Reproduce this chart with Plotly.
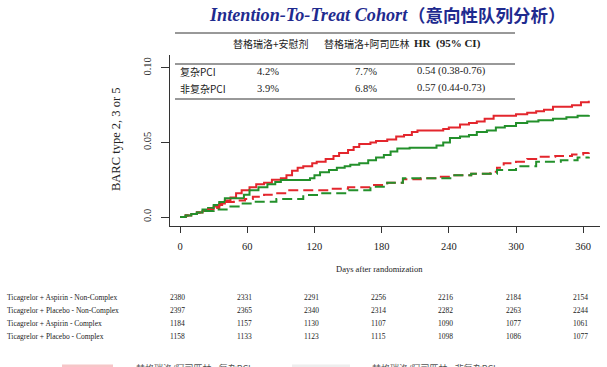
import plotly.graph_objects as go

# ---------------- data ----------------
days_asp_cx = [0, 5, 10, 15, 20, 25, 30, 35, 40, 45, 50, 55, 62, 68, 75, 82, 90, 95, 100, 105, 110, 118, 122, 130, 137, 142, 150, 155, 160, 170, 175, 185, 193, 200, 207, 212, 235, 240, 250, 258, 265, 272, 280, 290, 300, 310, 318, 325, 333, 340, 350, 358, 365]
vals_asp_cx = [0, 0.001, 0.002, 0.003, 0.004, 0.005, 0.007, 0.009, 0.011, 0.013, 0.016, 0.018, 0.020, 0.022, 0.023, 0.025, 0.026, 0.028, 0.031, 0.033, 0.034, 0.036, 0.037, 0.039, 0.041, 0.043, 0.045, 0.047, 0.049, 0.050, 0.051, 0.052, 0.054, 0.055, 0.057, 0.058, 0.059, 0.060, 0.062, 0.063, 0.064, 0.066, 0.068, 0.068, 0.069, 0.070, 0.071, 0.072, 0.074, 0.074, 0.075, 0.077, 0.078]

days_asp_nc = [0, 5, 10, 15, 20, 25, 30, 35, 40, 57, 62, 70, 78, 85, 90, 116, 120, 125, 133, 140, 147, 152, 160, 168, 175, 182, 188, 194, 205, 229, 235, 241, 250, 258, 265, 274, 282, 290, 300, 310, 320, 333, 345, 355, 365]
vals_asp_nc = [0, 0.001, 0.002, 0.003, 0.005, 0.006, 0.008, 0.010, 0.0125, 0.015, 0.018, 0.020, 0.022, 0.0235, 0.0248, 0.026, 0.028, 0.030, 0.0315, 0.033, 0.034, 0.035, 0.036, 0.038, 0.040, 0.0416, 0.044, 0.046, 0.0465, 0.048, 0.050, 0.053, 0.054, 0.055, 0.057, 0.058, 0.060, 0.061, 0.063, 0.064, 0.065, 0.066, 0.067, 0.068, 0.0685]

days_pla_cx = [0, 5, 10, 15, 20, 25, 30, 35, 40, 48, 58, 65, 75, 85, 95, 128, 135, 150, 170, 185, 199, 215, 230, 244, 260, 277, 283, 289, 300, 310, 318, 335, 350, 360, 365]
vals_pla_cx = [0, 0.001, 0.002, 0.003, 0.004, 0.005, 0.006, 0.008, 0.010, 0.011, 0.012, 0.0136, 0.015, 0.016, 0.018, 0.018, 0.019, 0.020, 0.0215, 0.023, 0.0253, 0.026, 0.027, 0.028, 0.029, 0.0304, 0.033, 0.036, 0.037, 0.039, 0.0405, 0.041, 0.042, 0.043, 0.0432]

days_pla_nc = [0, 5, 10, 15, 20, 30, 45, 55, 65, 86, 110, 125, 150, 170, 185, 199, 244, 260, 283, 300, 318, 340, 355, 365]
vals_pla_nc = [0, 0.001, 0.002, 0.003, 0.004, 0.005, 0.007, 0.009, 0.0103, 0.012, 0.0148, 0.016, 0.018, 0.0203, 0.023, 0.026, 0.028, 0.029, 0.0315, 0.034, 0.037, 0.038, 0.040, 0.0405]

x_ticks = [0, 60, 120, 180, 240, 300, 360]
y_ticks = [0.0, 0.05, 0.10]
y_tick_labels = ["0.0", "0.05", "0.10"]

risk_labels = ["Ticagrelor + Aspirin - Non-Complex", "Ticagrelor + Placebo - Non-Complex",
               "Ticagrelor + Aspirin - Complex", "Ticagrelor + Placebo - Complex"]
risk_asp_nc = [2380, 2331, 2291, 2256, 2216, 2184, 2154]
risk_pla_nc = [2397, 2365, 2340, 2314, 2282, 2263, 2244]
risk_asp_cx = [1184, 1157, 1130, 1107, 1090, 1077, 1061]
risk_pla_cx = [1158, 1133, 1123, 1115, 1098, 1086, 1077]

tbl_header = ["替格瑞洛+安慰剂", "替格瑞洛+阿司匹林", "HR  (95% CI)"]
tbl_rows = ["复杂PCI", "非复杂PCI"]
tbl_placebo = ["4.2%", "3.9%"]
tbl_aspirin = ["7.7%", "6.8%"]
tbl_hr = ["0.54 (0.38-0.76)", "0.57 (0.44-0.73)"]

legend_texts = ["替格瑞洛/阿司匹林 - 复杂PCI", "替格瑞洛/阿司匹林 - 非复杂PCI"]

# ---------------- layout helpers ----------------
W, H = 607, 367
L, R, T, B = 170, 7, 55, 141
PW, PH = W - L - R, H - T - B


def px(x):
    return (x - L) / PW


def py(y):
    return (H - B - y) / PH


RED = "#e3262d"
GREEN = "#23902b"
SERIF = "Liberation Serif"
CJK = "Noto Sans CJK SC"
BLUE = "#1f2b8f"

fig = go.Figure()
fig.add_trace(go.Scatter(x=days_asp_cx, y=vals_asp_cx, mode="lines", line=dict(color=RED, width=2, shape="hv")))
fig.add_trace(go.Scatter(x=days_asp_nc, y=vals_asp_nc, mode="lines", line=dict(color=GREEN, width=2, shape="hv")))
fig.add_trace(go.Scatter(x=days_pla_cx, y=vals_pla_cx, mode="lines", line=dict(color=RED, width=2, shape="hv", dash="10px,5px")))
fig.add_trace(go.Scatter(x=days_pla_nc, y=vals_pla_nc, mode="lines", line=dict(color=GREEN, width=2, shape="hv", dash="10px,5px")))

ann = []
shapes = []

# title
ann.append(dict(text="<b><i>Intention-To-Treat Cohort</i></b>", x=px(410), y=py(15), xref="paper", yref="paper",
                xanchor="right", yanchor="middle", showarrow=False, font=dict(family=SERIF, size=18.2, color=BLUE)))
ann.append(dict(text="<b>（意向性队列分析）</b>", x=px(406), y=py(14), xref="paper", yref="paper",
                xanchor="left", yanchor="middle", showarrow=False, font=dict(family=CJK, size=17.5, color=BLUE)))

# summary table
for yy in [33, 64, 99]:
    shapes.append(dict(type="line", xref="paper", yref="paper", x0=px(175), x1=px(515), y0=py(yy), y1=py(yy),
                       line=dict(color="#333333", width=1)))
hdr_x = [271, 367, 447]
for i, h in enumerate(tbl_header):
    fnt = dict(family=CJK, size=10, color="#222") if i < 2 else dict(family=SERIF, size=11, color="#222")
    txt = h if i < 2 else "<b>" + h + "</b>"
    ann.append(dict(text=txt, x=px(hdr_x[i]), y=py(44), xref="paper", yref="paper", xanchor="center",
                    yanchor="middle", showarrow=False, font=fnt))
for r, yy in enumerate([71, 88]):
    ann.append(dict(text=tbl_rows[r], x=px(178), y=py(yy), xref="paper", yref="paper", xanchor="left",
                    yanchor="middle", showarrow=False, font=dict(family=CJK, size=10, color="#222")))
    ann.append(dict(text=tbl_placebo[r], x=px(255), y=py(yy), xref="paper", yref="paper", xanchor="left",
                    yanchor="middle", showarrow=False, font=dict(family=SERIF, size=10.5, color="#222")))
    ann.append(dict(text=tbl_aspirin[r], x=px(353), y=py(yy), xref="paper", yref="paper", xanchor="left",
                    yanchor="middle", showarrow=False, font=dict(family=SERIF, size=10.5, color="#222")))
    ann.append(dict(text=tbl_hr[r], x=px(415), y=py(yy), xref="paper", yref="paper", xanchor="left",
                    yanchor="middle", showarrow=False, font=dict(family=SERIF, size=10.5, color="#222")))

# axis titles
ann.append(dict(text="BARC type 2, 3 or 5", x=px(116), y=py(140), xref="paper", yref="paper", textangle=-90,
                xanchor="center", yanchor="middle", showarrow=False, font=dict(family=SERIF, size=12.5, color="#222")))
ann.append(dict(text="Days after randomization", x=px(379), y=py(269), xref="paper", yref="paper",
                xanchor="center", yanchor="middle", showarrow=False, font=dict(family=SERIF, size=8.5, color="#222")))

# number at risk
risk_rows = [risk_asp_nc, risk_pla_nc, risk_asp_cx, risk_pla_cx]
for r, (lab, vals) in enumerate(zip(risk_labels, risk_rows)):
    yy = [297, 310, 323, 336][r]
    ann.append(dict(text=lab, x=px(5), y=py(yy), xref="paper", yref="paper", xanchor="left", yanchor="middle",
                    showarrow=False, font=dict(family=SERIF, size=7.5, color="#222")))
    for d, v in zip(x_ticks, vals):
        ann.append(dict(text=str(v), x=d, y=py(yy), xref="x", yref="paper", xanchor="center", yanchor="middle",
                        xshift=-3, showarrow=False, font=dict(family=SERIF, size=7.5, color="#222")))

# legend at bottom (mostly below the visible area, as in the reference)
shapes.append(dict(type="line", xref="paper", yref="paper", x0=px(62), x1=px(113), y0=py(366), y1=py(366),
                   line=dict(color="#f6c6c8", width=3)))
shapes.append(dict(type="line", xref="paper", yref="paper", x0=px(292), x1=px(350), y0=py(366), y1=py(366),
                   line=dict(color="#eeeeee", width=3)))
ann.append(dict(text=legend_texts[0], x=px(134), y=py(368), xref="paper", yref="paper", xanchor="left",
                yanchor="middle", showarrow=False, font=dict(family=CJK, size=9, color="#555")))
ann.append(dict(text=legend_texts[1], x=px(370), y=py(368), xref="paper", yref="paper", xanchor="left",
                yanchor="middle", showarrow=False, font=dict(family=CJK, size=9, color="#555")))

fig.update_layout(
    width=W, height=H, margin=dict(l=L, r=R, t=T, b=B),
    paper_bgcolor="white", plot_bgcolor="white", showlegend=False,
    annotations=ann, shapes=shapes,
    xaxis=dict(range=[-9, 375], tickvals=x_ticks, ticktext=[str(t) for t in x_ticks], showgrid=False, zeroline=False,
               showline=True, linecolor="#333", linewidth=1, ticks="outside", ticklen=6, tickcolor="#333",
               tickfont=dict(family=SERIF, size=10.5, color="#222"), ticklabelstandoff=4),
    yaxis=dict(range=[-0.00604, 0.1087], tickvals=y_ticks, ticktext=y_tick_labels, showgrid=False, zeroline=False,
               showline=True, linecolor="#333", linewidth=1, ticks="outside", ticklen=8, tickcolor="#333",
               tickangle=-90, tickfont=dict(family=SERIF, size=10.5, color="#222"), ticklabelstandoff=6),
)

fig.write_html("out.html", config={"displayModeBar": False},
               post_script="document.body.style.margin='0';document.body.style.overflow='hidden';")
